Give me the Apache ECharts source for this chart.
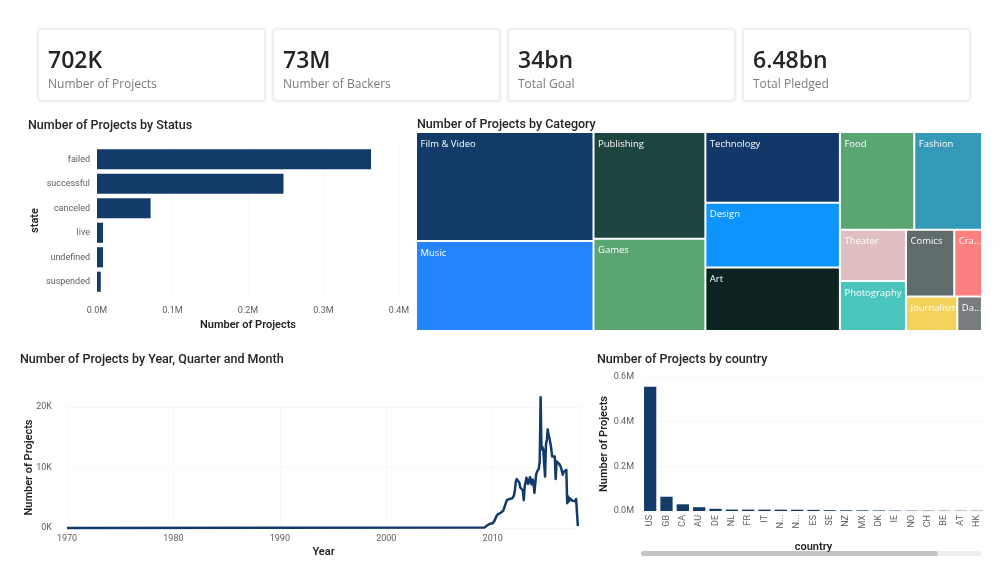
<!DOCTYPE html>
<html><head><meta charset="utf-8">
<script src="https://cdn.jsdelivr.net/npm/echarts@6/dist/echarts.min.js"></script>
<style>html,body{margin:0;padding:0;background:#fff;}#c{width:1000px;height:577px;}</style>
</head><body><div id="c"></div><script>
// ---- data ----
const kpiValues = ['702K', '73M', '34bn', '6.48bn'];
const kpiLabels = ['Number of Projects', 'Number of Backers', 'Total Goal', 'Total Pledged'];

const statusCategories = ['failed', 'successful', 'canceled', 'live', 'undefined', 'suspended'];
const statusValues = [363000, 247000, 71000, 8000, 8000, 5000];
const statusTicks = [0, 100000, 200000, 300000, 400000];

const treeCategories = ['Film & Video', 'Music', 'Publishing', 'Games', 'Technology', 'Design', 'Art', 'Food', 'Fashion', 'Theater', 'Photography', 'Comics', 'Crafts', 'Journalism', 'Dance'];
const treeValues = [120000, 99000, 74000, 64000, 59000, 54000, 53000, 45000, 41000, 21000, 20500, 20000, 11500, 11000, 5300];
const treeColors = ['#123b69', '#2584ff', '#1d4540', '#5aa571', '#12386a', '#0e94ff', '#0c2422', '#5aa571', '#3599b8', '#dfbfbf', '#4ac5bb', '#5f6b6d', '#fd8080', '#f2d25a', '#777d7f'];

const earlyMonth = '1970-01';
const earlyValue = 7;
const firstMonth = '2009-04';
const monthlyValues = [
  100, 200, 300, 450, 500, 600, 700, 600, 600,                                   // 2009 Apr-Dec
  800, 900, 1200, 1500, 1900, 2100, 2300, 2100, 2300, 2500, 2600, 2600,           // 2010
  2900, 3200, 3800, 4200, 4600, 4900, 4800, 4800, 4900, 4600, 4900, 4600,         // 2011
  5400, 6300, 7600, 8100, 8000, 7800, 7500, 6700, 6400, 6900, 6200, 4600,         // 2012
  6800, 7500, 8300, 8100, 7300, 7600, 8400, 7600, 7200, 8000, 7500, 5800,         // 2013
  7400, 8900, 9300, 9600, 9800, 11000, 21600, 13000, 13400, 12900, 13200, 8500,   // 2014
  13800, 14600, 16300, 15400, 14800, 14000, 13100, 11800, 12100, 11600, 11800, 8100, // 2015
  11000, 11300, 11000, 10600, 10800, 10000, 9400, 8800, 9300, 9500, 9200, 9600,   // 2016
  4100, 5200, 4400, 4900, 4600, 4800, 4500, 4600, 4700, 4400, 4800, 4500,         // 2017
  300                                                                            // 2018 Jan
];
const yearTicks = [1970, 1980, 1990, 2000, 2010];
const lineTicks = [0, 10000, 20000];

const countryCategories = ['US', 'GB', 'CA', 'AU', 'DE', 'NL', 'FR', 'IT', 'N...', 'N...', 'ES', 'SE', 'NZ', 'MX', 'DK', 'IE', 'NO', 'CH', 'BE', 'AT', 'HK'];
const countryValues = [556000, 64000, 30000, 17000, 10000, 6600, 6400, 6200, 6000, 5800, 5200, 3700, 3100, 3000, 2400, 1800, 1600, 1500, 1300, 1300, 1200];
const countryTicks = [0, 200000, 400000, 600000];

// ---- helpers ----
function toDecimalYear(ym) { const p = ym.split('-'); return +p[0] + (+p[1] - 1) / 12; }
const lineData = [[toDecimalYear(earlyMonth), earlyValue]];
(function () {
  let y = +firstMonth.split('-')[0], m = +firstMonth.split('-')[1];
  monthlyValues.forEach(v => {
    lineData.push([y + (m - 1) / 12, v]);
    m++; if (m > 12) { m = 1; y++; }
  });
})();

const FONT = 'Roboto, "Open Sans", sans-serif';
const LBL = '#605e5c', DARK = '#252423', BAR = '#123b69';

// ---- KPI cards ----
const graphics = [];
kpiValues.forEach((v, i) => {
  const x = 38 + i * 235;
  graphics.push({ type: 'rect', shape: { x: x, y: 29, width: 227, height: 72, r: 3 }, style: { fill: '#fff', stroke: '#e4e4e4', lineWidth: 1, shadowBlur: 4, shadowColor: 'rgba(0,0,0,0.06)' }, z: 0 });
  graphics.push({ type: 'text', x: x + 10, y: 61, style: { text: v, font: '600 23px "Open Sans", sans-serif', fill: '#252423', textVerticalAlign: 'middle' }, z: 1 });
  graphics.push({ type: 'text', x: x + 10, y: 85, style: { text: kpiLabels[i], font: '12px "Open Sans", sans-serif', fill: '#7a7a7a', textVerticalAlign: 'middle' }, z: 1 });
});
// scrollbar of the country chart
graphics.push({ type: 'rect', shape: { x: 641, y: 551, width: 340, height: 5, r: 2.5 }, style: { fill: '#eeeeee' } });
graphics.push({ type: 'rect', shape: { x: 641, y: 551, width: 297, height: 5, r: 2.5 }, style: { fill: '#c4c4c4' } });

const titleStyle = { fontFamily: FONT, fontSize: 12.5, fontWeight: 500, color: DARK };
const axisNameStyle = { fontFamily: FONT, fontSize: 11, fontWeight: 600, color: DARK };
const axisLabelStyle = { fontFamily: FONT, fontSize: 9, color: LBL };

const chart = echarts.init(document.getElementById('c'), null, { renderer: 'canvas' });
chart.setOption({
  animation: false,
  backgroundColor: '#fff',
  graphic: graphics,
  title: [
    { text: 'Number of Projects by Status', left: 28, top: 119, padding: 0, textStyle: titleStyle },
    { text: 'Number of Projects by Category', left: 417, top: 118, padding: 0, textStyle: titleStyle },
    { text: 'Number of Projects by Year, Quarter and Month', left: 20, top: 353, padding: 0, textStyle: titleStyle },
    { text: 'Number of Projects by country', left: 597, top: 353, padding: 0, textStyle: titleStyle }
  ],
  grid: [
    { left: 97, right: 601, top: 147, bottom: 283 },
    { left: 67, right: 420, top: 407, bottom: 49 },
    { left: 642, right: 15, top: 377, bottom: 66 }
  ],
  xAxis: [
    { gridIndex: 0, type: 'value', min: statusTicks[0], max: statusTicks[statusTicks.length - 1], interval: statusTicks[1] - statusTicks[0],
      name: 'Number of Projects', nameLocation: 'middle', nameGap: 26, nameTextStyle: axisNameStyle,
      axisLine: { show: false }, axisTick: { show: false },
      axisLabel: Object.assign({ margin: 12, formatter: v => (v / 1e6).toFixed(1) + 'M' }, axisLabelStyle),
      splitLine: { show: true, lineStyle: { color: '#f2f2f2', type: 'dotted' } } },
    { gridIndex: 1, type: 'value', min: 1970, max: 2018.2, interval: 10,
      name: 'Year', nameLocation: 'middle', nameGap: 19, nameTextStyle: axisNameStyle,
      axisLine: { show: false }, axisTick: { show: false },
      axisLabel: Object.assign({ margin: 6, showMaxLabel: false, formatter: v => (yearTicks.indexOf(v) >= 0 ? String(v) : '') }, axisLabelStyle),
      splitLine: { show: true, lineStyle: { color: '#f0f0f0', type: 'dotted' } } },
    { gridIndex: 2, type: 'category', data: countryCategories,
      name: 'country', nameLocation: 'middle', nameGap: 31, nameTextStyle: axisNameStyle,
      axisLine: { show: false }, axisTick: { show: false },
      axisLabel: Object.assign({ rotate: 90, margin: 4, interval: 0 }, axisLabelStyle) }
  ],
  yAxis: [
    { gridIndex: 0, type: 'category', data: statusCategories, inverse: true,
      name: 'state', nameLocation: 'middle', nameGap: 56, nameRotate: 90, nameTextStyle: axisNameStyle,
      axisLine: { show: false }, axisTick: { show: false },
      axisLabel: Object.assign({ margin: 7 }, axisLabelStyle) },
    { gridIndex: 1, type: 'value', min: lineTicks[0], max: lineTicks[lineTicks.length - 1], interval: lineTicks[1] - lineTicks[0],
      name: 'Number of Projects', nameLocation: 'middle', nameGap: 32, nameMoveOverlap: false, nameRotate: 90, nameTextStyle: axisNameStyle,
      axisLine: { show: false }, axisTick: { show: false },
      axisLabel: Object.assign({ margin: 15, formatter: v => (v / 1000) + 'K' }, axisLabelStyle),
      splitLine: { show: true, lineStyle: { color: '#f0f0f0', type: 'dotted' } } },
    { gridIndex: 2, type: 'value', min: countryTicks[0], max: countryTicks[countryTicks.length - 1], interval: countryTicks[1] - countryTicks[0],
      name: 'Number of Projects', nameLocation: 'middle', nameGap: 32, nameRotate: 90, nameTextStyle: axisNameStyle,
      axisLine: { show: false }, axisTick: { show: false },
      axisLabel: Object.assign({ margin: 8, formatter: v => (v / 1e6).toFixed(1) + 'M' }, axisLabelStyle),
      splitLine: { show: true, lineStyle: { color: '#f2f2f2', type: 'dotted' } } }
  ],
  series: [
    { type: 'bar', xAxisIndex: 0, yAxisIndex: 0, data: statusValues, barCategoryGap: '18%', itemStyle: { color: BAR } },
    { type: 'line', xAxisIndex: 1, yAxisIndex: 1, data: lineData, showSymbol: false, clip: false,
      lineStyle: { color: BAR, width: 2.5, join: 'round' } },
    { type: 'bar', xAxisIndex: 2, yAxisIndex: 2, data: countryValues, barCategoryGap: '25%', itemStyle: { color: BAR } },
    { type: 'treemap', left: 417, top: 133, width: 564, height: 197,
      roam: false, nodeClick: false, breadcrumb: { show: false }, sort: 'desc',
      itemStyle: { gapWidth: 2, borderWidth: 0, borderColor: '#fff' },
      levels: [{ itemStyle: { gapWidth: 2, borderWidth: 0, borderColor: '#fff' } }],
      label: { show: true, position: 'insideTopLeft', color: '#fff', fontFamily: '"Open Sans", sans-serif', fontSize: 9.5, overflow: 'truncate', ellipsis: '...', distance: 3.5, padding: [2.5, 0, 0, 0] },
      data: treeCategories.map((n, i) => ({ name: n, value: treeValues[i], itemStyle: { color: treeColors[i] } })) }
  ]
});
</script></body></html>
